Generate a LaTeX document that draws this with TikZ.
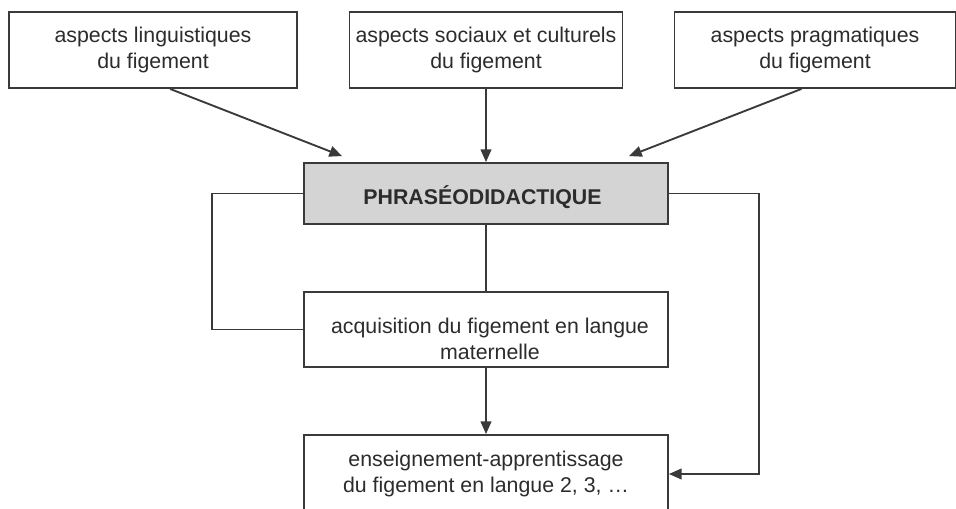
\documentclass[tikz,border=0pt]{standalone}
\usepackage{fontspec}
\setmainfont{Liberation Sans}
\usetikzlibrary{arrows.meta,calc}
\definecolor{linec}{HTML}{3A3A3A}
\definecolor{textc}{HTML}{2C2C2C}
\definecolor{phfill}{HTML}{D4D4D4}
\begin{document}
\begin{tikzpicture}[x=0.75pt,y=-0.75pt,
  box/.style={draw=linec, line width=1.4pt, rectangle, inner sep=0pt, fill=white},
  txt/.style={font=\fontsize{16}{19.5}\selectfont, text=textc, align=center, inner sep=0pt},
  conn/.style={draw=linec, line width=1.4pt},
  arr/.style={conn, -{Triangle[length=9.5pt,width=8pt]}}]
\useasboundingbox (0,0) rectangle (956,509);
\clip (0,0) rectangle (956,509);
\fill[white] (0,0) rectangle (956,509);
% top boxes
\node[box, txt, minimum width=216pt, minimum height=57pt] (b1) at (153,50)
  {\strut aspects linguistiques\\\strut du figement};
\node[box, txt, minimum width=204.75pt, minimum height=57pt] (b2) at (486,50)
  {\strut aspects sociaux et culturels\\\strut du figement};
\node[box, txt, minimum width=210.75pt, minimum height=57pt] (b3) at (815,50)
  {\strut aspects pragmatiques\\\strut du figement};
% central box
\node[box, fill=phfill, minimum width=273pt, minimum height=45.75pt] (ph) at (486,193.5) {};
\node[txt, font=\fontsize{16}{19.5}\selectfont\bfseries] (phtext) at (482.5,199) {\strut PHRASÉODIDACTIQUE};
% acquisition
\node[box, minimum width=273pt, minimum height=56.25pt] (acq) at (486,329.5) {};
\node[txt] (acqtext) at (490,341) {\strut acquisition du figement en langue\\\strut maternelle};
% bottom box
\node[box, txt, minimum width=273pt, minimum height=58.5pt] (bot) at (486,474)
  {\strut enseignement-apprentissage\\\strut du figement en langue 2, 3, \dots};
% connectors
\coordinate (a1s) at ($(b1.south west)!0.559!(b1.south east)$);
\coordinate (a1e) at ($(ph.north west)+(39,-6)$);
\coordinate (a3s) at ($(b3.south west)!0.452!(b3.south east)$);
\coordinate (a3e) at ($(ph.north west)+(326,-6)$);
\draw[arr] (a1s) -- (a1e);
\draw[arr] (a3s) -- (a3e);
\draw[arr] (b2.south) -- (b2.south |- ph.north);
\draw[conn] (ph.west) -- ++(-91,0) |- (acq.west);
\draw[conn] (ph.south) -- (acq.north);
\draw[arr] (acq.south) -- (bot.north);
\draw[arr] (ph.east) -- ++(90,0) |- (bot.east);
\end{tikzpicture}
\end{document}
